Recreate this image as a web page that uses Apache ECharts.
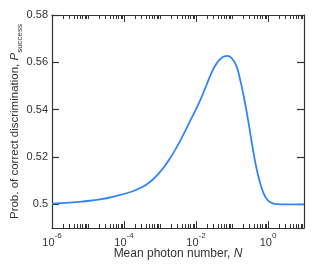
<!DOCTYPE html>
<html>
<head>
<meta charset="utf-8">
<script src="https://cdn.jsdelivr.net/npm/echarts@6/dist/echarts.min.js"></script>
<style>html,body{margin:0;padding:0;background:#fff}#c{width:314px;height:275px}</style>
</head>
<body>
<div id="c"></div>
<script>
// Mean photon number N
const photonN = [1e-6, 3.16e-6, 8.2e-6, 2.14e-5, 5.56e-5, 1.44e-4, 2.73e-4, 5.16e-4, 9.77e-4, 1.5e-3, 2.54e-3, 4.31e-3, 6.61e-3, 0.0125, 0.0192, 0.0292, 0.0394, 0.0508, 0.0615, 0.0746, 0.0962, 0.130, 0.160, 0.220, 0.286, 0.377, 0.486, 0.644, 0.832, 1.09, 1.67, 3.92, 10];
// Probability of correct discrimination
const pSuccess = [0.5003, 0.5007, 0.5013, 0.5021, 0.5034, 0.5051, 0.5068, 0.5093, 0.5135, 0.5171, 0.5226, 0.5290, 0.5347, 0.5433, 0.5501, 0.5567, 0.5600, 0.5618, 0.5625, 0.5627, 0.5619, 0.5588, 0.5541, 0.5444, 0.5347, 0.5237, 0.5148, 0.5076, 0.5033, 0.5011, 0.5001, 0.5000, 0.5000];
// axis ranges and tick labels
const xMin = 1e-6, xMax = 10;
const yMin = 0.49, yMax = 0.58;
const xLabelExponents = [-6, -4, -2, 0];
const decadeExponents = [-6, -5, -4, -3, -2, -1, 0, 1];
const minorMultipliers = [2, 3, 4, 5, 6, 7, 8, 9];

const tickData = [];
decadeExponents.forEach(e => {
  const base = Math.pow(10, e);
  tickData.push([base, yMin, xLabelExponents.includes(e) ? 1 : 0]);
  minorMultipliers.forEach(m => { const v = m * base; if (v <= xMax * 1.0001) tickData.push([v, yMin, 0]); });
});

const axisColor = '#333';
const chart = echarts.init(document.getElementById('c'));
chart.setOption({
  animation: false,
  grid: { left: 52, right: 10, top: 15, bottom: 47, containLabel: false, outerBoundsMode: 'none' },
  xAxis: [{
    type: 'log', logBase: 10, min: xMin, max: xMax, position: 'bottom', splitNumber: 7,
    axisLine: { lineStyle: { color: axisColor, width: 1.2 } },
    axisTick: { show: false }, splitLine: { show: false },
    axisLabel: {
      margin: 4, color: axisColor,
      formatter: v => { const e = Math.round(Math.log10(v)); return xLabelExponents.includes(e) ? '{b|10}{s|' + e + '}' : ''; },
      rich: { b: { fontSize: 11, fontFamily: 'Liberation Sans', color: axisColor, lineHeight: 16, verticalAlign: 'bottom' },
              s: { fontSize: 8, fontFamily: 'Liberation Sans', color: axisColor, verticalAlign: 'top', lineHeight: 10 } }
    },
    name: '{t|Mean photon number, }{i|N}', nameLocation: 'middle', nameGap: 20, nameMoveOverlap: false,
    nameTextStyle: { rich: { t: { fontSize: 12, fontFamily: 'Liberation Sans', color: axisColor }, i: { fontSize: 12, fontFamily: 'Liberation Sans', fontStyle: 'italic', color: axisColor } } }
  }, {
    type: 'log', logBase: 10, min: xMin, max: xMax, position: 'top',
    axisLine: { lineStyle: { color: axisColor, width: 1.2 } },
    axisTick: { show: false }, axisLabel: { show: false }, splitLine: { show: false }
  }],
  yAxis: [{
    type: 'value', min: yMin, max: yMax, splitNumber: 5, position: 'left',
    axisLine: { show: true, lineStyle: { color: axisColor, width: 1.2 } },
    axisTick: { show: true, inside: true, length: 7, lineStyle: { color: axisColor, width: 1.2 } },
    splitLine: { show: false },
    axisLabel: { showMinLabel: false, showMaxLabel: true, margin: 4, fontSize: 11, fontFamily: 'Liberation Sans', color: axisColor,
      formatter: v => (Math.abs(v - 0.5) < 1e-9 ? '0.5' : v.toFixed(2)) },
    name: '{t|Prob. of correct discrimination, }{i|P}{s|success}', nameLocation: 'middle', nameGap: 28, nameMoveOverlap: false,
    nameTextStyle: { rich: {
      t: { fontSize: 11.5, fontFamily: 'Liberation Sans', color: axisColor, lineHeight: 15, verticalAlign: 'top' },
      i: { fontSize: 11.5, fontFamily: 'Liberation Sans', fontStyle: 'italic', color: axisColor, lineHeight: 15, verticalAlign: 'top' },
      s: { fontSize: 8, fontFamily: 'Liberation Sans', color: axisColor, verticalAlign: 'bottom', lineHeight: 10 } } }
  }, {
    type: 'value', min: yMin, max: yMax, splitNumber: 5, position: 'right',
    axisLine: { show: true, lineStyle: { color: axisColor, width: 1.2 } },
    axisTick: { show: true, inside: true, length: 7, lineStyle: { color: axisColor, width: 1.2 } },
    axisLabel: { show: false }, splitLine: { show: false }
  }],
  series: [{
    type: 'custom', xAxisIndex: 0, yAxisIndex: 0, silent: true, clip: false,
    data: tickData, encode: { x: 0, y: 1 },
    renderItem: (params, api) => {
      const x = Math.round(api.coord([api.value(0), yMin])[0]) + 0.5;
      const cs = params.coordSys;
      const len = api.value(2) ? 7 : 4;
      const style = { stroke: axisColor, lineWidth: 1 };
      return { type: 'group', children: [
        { type: 'line', shape: { x1: x, y1: cs.y + cs.height, x2: x, y2: cs.y + cs.height - len }, style },
        { type: 'line', shape: { x1: x, y1: cs.y, x2: x, y2: cs.y + len }, style }
      ] };
    }
  }, {
    type: 'line', xAxisIndex: 0, yAxisIndex: 0, showSymbol: false, smooth: 0.5,
    data: photonN.map((n, i) => [n, pSuccess[i]]),
    lineStyle: { color: '#3385f8', width: 1.8 }
  }]
});
</script>
</body>
</html>
